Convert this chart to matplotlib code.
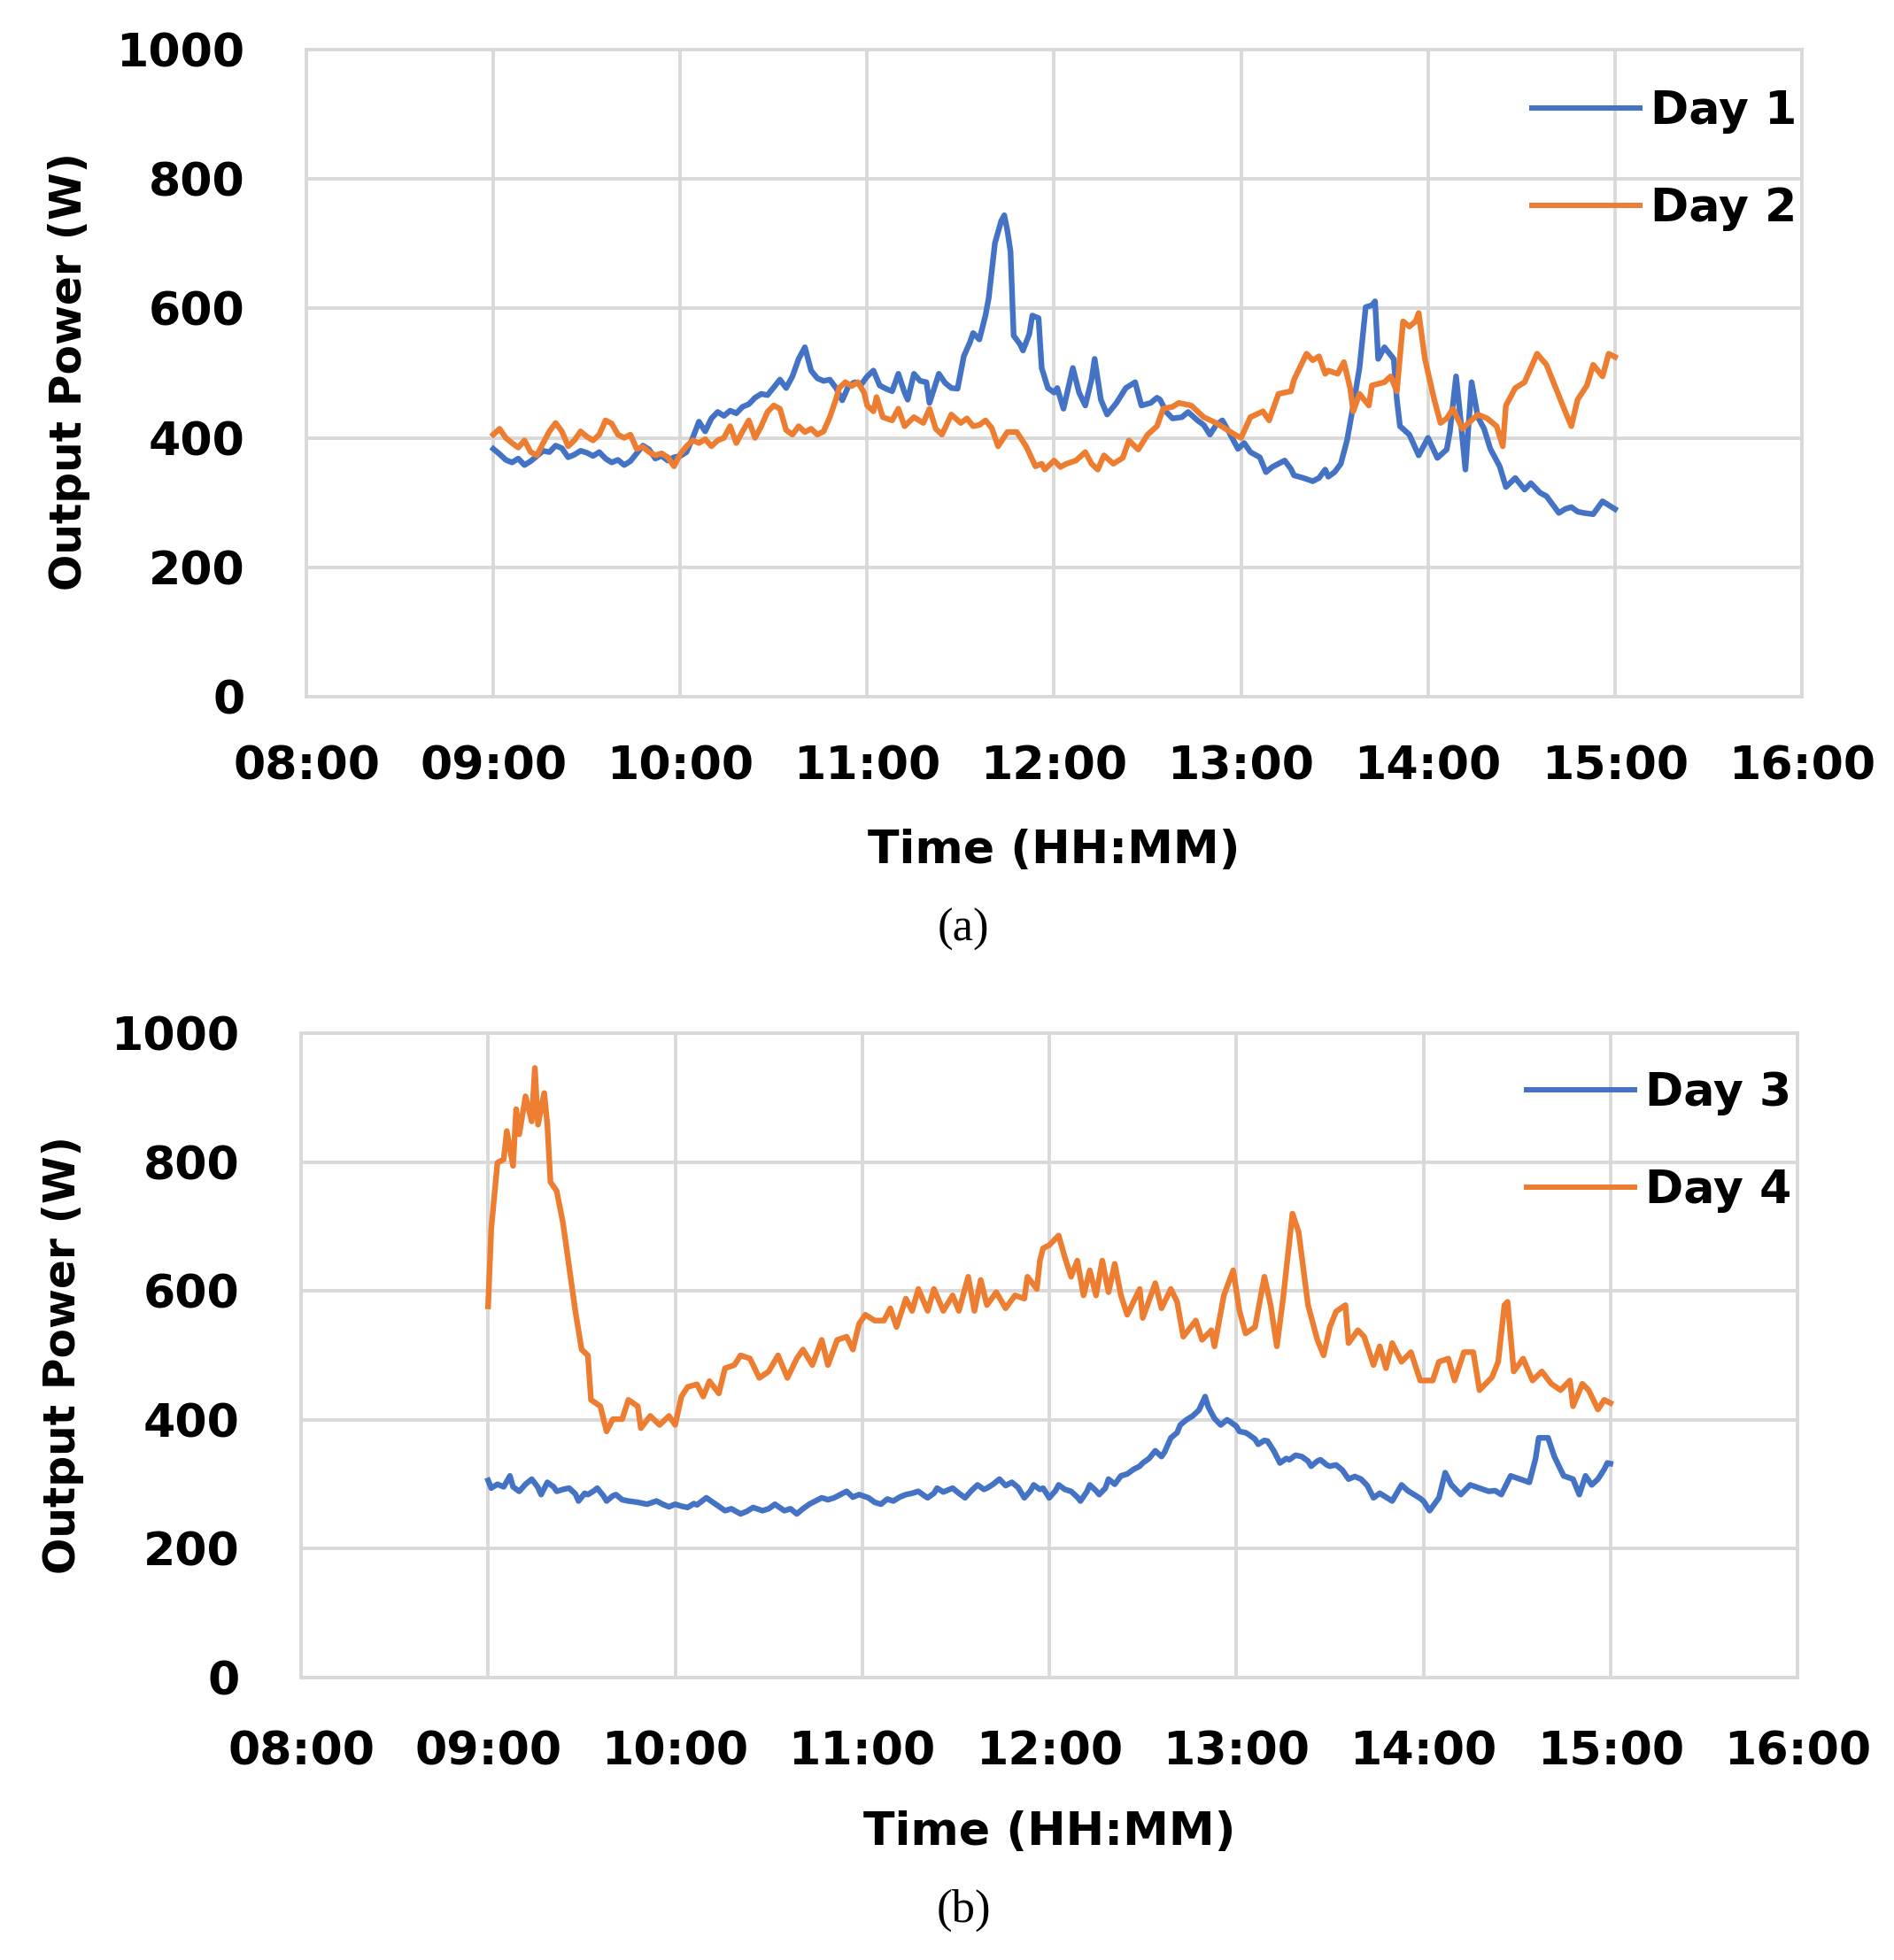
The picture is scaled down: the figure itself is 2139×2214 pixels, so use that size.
import matplotlib
matplotlib.use("Agg")
import matplotlib.pyplot as plt
from matplotlib.lines import Line2D

# ---------------- data (minutes after midnight, W) ----------------
t_day1 = [540,542,544,546,548,550,552,554,556,558,560,562,564,566,568,570,572,574,576,578,580,582,584,586,588,590,592,594,596,598,
          600,602,604,606,608,610,612,614,616,618,620,622,624,626,628,630,632,634,636,638,640,642,644,646,648,650,652,654,656,658,
          660,662,664,666,668,670,672,673,675,677,679,680,683,685,687,689,691,693,694,696,698,699,701,703,704,705,706,707,709,710,
          712,713,715,716,718,720,721,723,726,728,730,732,733,735,737,739,740,743,746,748,751,753,754,756,758,761,763,766,768,770,
          772,774,776,779,781,783,786,788,790,792,794,796,797,800,803,805,807,808,810,812,814,816,818,820,822,823,824,826,829,830,
          831,834,837,840,843,846,847,849,850,852,854,856,858,860,863,865,868,871,873,876,878,880,882,884,886,888,890,893,896,898,
          899,900]
v_day1 = [383,375,366,362,368,358,364,372,380,378,388,384,370,374,380,377,372,378,368,362,366,358,364,376,388,382,368,372,365,370,
          372,378,400,425,410,430,440,434,442,438,448,452,462,468,466,478,490,477,495,522,540,504,492,488,490,477,458,480,486,482,
          495,504,481,476,472,499,470,459,499,488,486,454,499,485,477,476,526,548,562,552,590,616,701,735,744,720,688,558,545,535,
          560,589,585,508,477,470,477,445,508,470,450,490,522,459,436,448,454,477,486,450,454,462,459,440,430,432,440,427,420,405,
          420,427,410,383,392,378,370,347,355,360,365,352,342,338,333,338,351,340,347,360,396,450,508,602,605,611,522,540,522,459,
          418,405,373,400,369,382,409,495,450,351,486,432,414,383,356,324,338,320,330,315,310,297,284,290,293,286,284,282,302,296,
          293,290]

t_day2 = [540,542,544,546,548,550,552,554,556,558,560,562,564,566,568,570,572,574,576,578,580,582,584,586,588,590,592,594,596,598,
          600,602,604,606,608,610,612,614,616,618,620,622,624,626,628,630,632,634,636,638,640,642,644,646,648,650,651,653,655,657,
          659,660,662,663,665,668,670,672,675,678,680,682,684,687,690,692,694,696,698,700,702,705,708,711,714,716,717,720,722,724,
          727,730,732,734,736,739,742,744,747,750,753,755,758,760,764,768,772,775,778,780,783,787,789,792,796,797,801,803,805,807,
          808,811,813,815,816,818,821,822,826,828,830,832,834,836,837,839,842,844,846,848,851,853,856,859,862,864,865,868,871,875,
          878,881,884,886,888,891,893,896,898,900]
v_day2 = [405,414,400,392,385,396,378,373,392,410,423,410,387,396,410,402,396,405,427,422,405,400,405,383,386,378,373,376,370,356,
          375,387,396,392,398,387,396,400,418,392,410,427,400,418,440,450,445,412,405,418,409,414,405,410,432,460,477,486,480,486,
          470,450,441,463,432,427,445,418,432,423,445,414,405,436,423,430,418,420,427,415,387,409,409,387,356,360,351,365,355,360,
          365,378,360,351,373,360,369,396,382,405,418,445,448,454,450,432,423,414,405,400,432,441,427,468,472,490,530,520,526,499,
          504,499,517,477,441,468,450,481,486,495,472,580,572,580,593,522,459,423,430,445,414,423,436,430,418,387,450,477,486,530,
          513,477,441,418,459,481,513,495,530,525]

t_day3 = [540,541,543,545,547,548,550,552,554,556,557,559,561,562,564,566,568,569,571,572,574,575,577,578,580,581,583,585,588,591,
          594,596,598,600,602,604,606,607,610,613,616,618,621,623,625,628,630,632,635,637,639,641,643,645,647,649,651,653,655,657,
          659,662,664,666,668,670,672,674,676,678,680,681,683,684,686,689,691,693,695,697,699,700,702,704,706,708,710,712,714,715,
          717,718,720,722,723,725,727,729,730,732,733,735,736,738,739,741,743,745,747,749,750,752,754,756,757,759,761,762,764,766,
          768,770,771,773,775,777,778,780,781,783,784,786,787,789,790,792,794,796,797,799,801,803,804,806,807,809,810,812,814,816,
          818,820,822,824,826,828,830,833,835,837,839,840,842,845,847,849,852,855,858,861,863,865,868,871,874,876,877,880,882,885,
          888,890,892,894,896,898,899,900]
v_day3 = [306,294,300,296,313,296,289,300,308,295,284,303,296,289,292,294,285,274,286,284,290,294,282,274,282,284,276,274,272,269,
          274,269,265,269,266,264,270,268,279,269,259,262,254,258,264,259,262,269,259,262,254,262,269,274,279,276,279,284,289,280,
          284,279,272,269,277,274,280,284,286,289,282,279,286,294,288,294,286,279,290,299,292,294,300,308,298,303,295,279,290,299,
          292,294,279,290,299,292,289,280,274,288,299,290,284,294,308,300,313,316,323,328,333,340,352,343,350,372,380,392,400,406,
          415,436,420,402,392,400,397,390,382,380,377,370,362,368,367,352,333,340,338,345,343,336,328,336,338,330,328,330,322,308,
          312,308,298,279,286,280,274,299,290,284,278,274,259,279,318,299,284,299,294,289,290,284,313,308,303,340,372,372,343,313,
          308,284,313,299,308,323,333,332]

t_day4 = [540,541,543,545,546,548,549,550,552,554,555,556,558,559,560,562,564,566,568,570,572,573,576,578,580,583,585,588,589,592,
          595,598,600,602,604,607,609,611,614,616,619,621,624,627,630,633,636,639,641,644,647,649,652,655,657,659,661,664,667,669,
          671,674,676,678,681,683,686,689,691,694,696,698,700,703,706,709,712,713,716,717,718,720,723,725,727,729,731,733,735,737,
          739,741,743,745,749,750,754,756,759,761,763,767,769,772,773,776,779,781,783,786,789,791,793,795,798,800,803,806,808,810,
          812,815,816,819,821,824,826,828,830,833,836,839,843,845,848,850,853,856,858,862,864,866,867,869,872,875,878,881,884,887,
          888,891,893,896,898,900]
v_day4 = [576,696,799,804,848,794,882,843,902,863,946,858,907,858,769,755,706,637,568,509,500,431,421,382,401,401,431,421,387,406,
          392,406,392,436,451,455,436,460,441,480,485,500,495,465,475,500,465,495,509,485,524,485,524,529,509,549,563,554,554,573,
          544,588,569,603,569,603,569,593,569,622,569,617,578,598,573,593,588,622,603,647,666,671,686,652,622,647,593,632,593,647,
          598,642,593,563,603,558,612,573,603,583,529,554,524,539,514,593,632,569,534,544,622,578,514,588,720,691,578,524,500,544,
          568,578,519,539,529,485,514,480,519,490,505,461,461,490,495,461,505,505,446,466,490,578,583,475,495,461,475,456,446,461,
          421,456,446,416,431,426]

x_ticks = [8, 9, 10, 11, 12, 13, 14, 15, 16]
x_tick_labels = ["08:00", "09:00", "10:00", "11:00", "12:00", "13:00", "14:00", "15:00", "16:00"]
y_ticks = [0, 200, 400, 600, 800, 1000]
y_tick_labels = ["0", "200", "400", "600", "800", "1000"]

panels = [
    {"series": [("Day 1", t_day1, v_day1), ("Day 2", t_day2, v_day2)], "caption": "(a)"},
    {"series": [("Day 3", t_day3, v_day3), ("Day 4", t_day4, v_day4)], "caption": "(b)"},
]

# ---------------- styling ----------------
BLUE = "#4472C4"
ORANGE = "#ED7D31"
GRID = "#D9D9D9"
FS = 37.5
FS_YLAB = 35
LW = 4.6
plt.rcParams["font.family"] = ["DejaVu Sans"]

W, H = 2139, 2214
fig = plt.figure(figsize=(W / 100, H / 100), dpi=100)

# axes rectangles in pixels: left, top(1000 line), right, bottom(0 line)
rects = [(346, 56, 2035, 787), (340, 1167, 2030, 1895)]
ylabel_pos = [(78, 420), (71, 1531)]
xlabel_y = [961, 2070]
caption_y = [1050, 2158]
legend_top = [(1730, 101), (1724, 1210)]
xpads = [39, 42.5]

for i, p in enumerate(panels):
    l, t, r, b = rects[i]
    ax = fig.add_axes([l / W, 1 - b / H, (r - l) / W, (b - t) / H])
    for (name, tt, vv), col in zip(p["series"], [BLUE, ORANGE]):
        ax.plot([m / 60 for m in tt], vv, color=col, lw=LW, label=name,
                solid_joinstyle="round")
    ax.set_xlim(8, 16)
    ax.set_ylim(0, 1000)
    ax.set_xticks(x_ticks)
    ax.set_xticklabels(x_tick_labels, fontsize=FS, fontweight="bold")
    ax.set_yticks(y_ticks)
    ax.set_yticklabels(y_tick_labels, fontsize=FS, fontweight="bold")
    ax.tick_params(axis="both", length=0)
    ax.tick_params(axis="y", pad=50)
    ax.tick_params(axis="x", pad=xpads[i])
    ax.grid(True, color=GRID, lw=2.8)
    ax.set_axisbelow(True)
    for s in ax.spines.values():
        s.set_color(GRID)
        s.set_linewidth(2.8)

    handles = [Line2D([], [], color=c, lw=4.3) for c in [BLUE, ORANGE]]
    names = [s[0] for s in p["series"]]
    lx, ly = legend_top[i]
    fig.legend(handles, names, loc="upper left", bbox_to_anchor=(lx / W, 1 - ly / H),
               frameon=False, borderpad=0, borderaxespad=0, handlelength=2.35,
               handletextpad=0.22, labelspacing=1.16,
               prop={"size": FS, "weight": "bold"})

    yx, yy = ylabel_pos[i]
    fig.text(yx / W, 1 - yy / H, "Output Power (W)", rotation=90, ha="center", va="center",
             fontsize=FS_YLAB, fontweight="bold")
    fig.text(((l + r) / 2) / W, 1 - xlabel_y[i] / H, "Time (HH:MM)", ha="center", va="center",
             fontsize=FS, fontweight="bold")
    fig.text(1088 / W, 1 - caption_y[i] / H, p["caption"], ha="center", va="center",
             fontsize=38, family=["Liberation Serif", "DejaVu Serif"])

fig.savefig("out.png", dpi=100)
